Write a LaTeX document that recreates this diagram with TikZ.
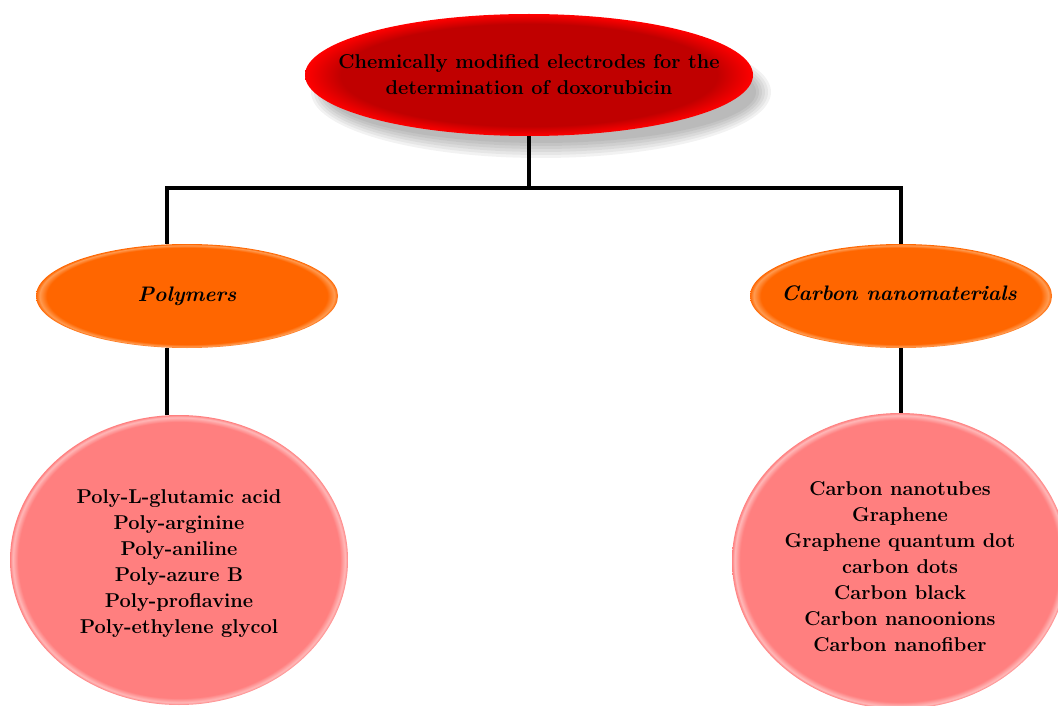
\documentclass[tikz,border=0pt]{standalone}
\usepackage{tikz}
\usetikzlibrary{shapes.geometric, positioning, calc}
\definecolor{CMEdeep}{HTML}{C00000}
\definecolor{CMEred}{HTML}{FF0000}
\definecolor{CMEorange}{HTML}{FF6600}
\definecolor{CMEorangeRim}{HTML}{FF9A50}
\definecolor{CMEpink}{HTML}{FF7F7F}
\definecolor{CMEpinkRim}{HTML}{FFB8B8}
\pgfdeclareradialshading{titleglow}{\pgfpoint{0bp}{0bp}}{color(0bp)=(CMEdeep); color(21bp)=(CMEdeep); color(25bp)=(CMEred); color(50bp)=(CMEred)}
\pgfdeclareradialshading{orangerim}{\pgfpoint{0bp}{0bp}}{color(0bp)=(CMEorange); color(23.2bp)=(CMEorange); color(24.4bp)=(CMEorangeRim); color(25bp)=(CMEorange); color(50bp)=(CMEorange)}
\pgfdeclareradialshading{pinkrim}{\pgfpoint{0bp}{0bp}}{color(0bp)=(CMEpink); color(23.8bp)=(CMEpink); color(24.6bp)=(CMEpinkRim); color(25bp)=(CMEpink); color(50bp)=(CMEpink)}

\tikzset{
  rootnode/.style={ellipse, shading=titleglow, inner sep=0pt,
    minimum width=448pt, minimum height=122pt},
  classnode/.style={ellipse, shading=orangerim, inner sep=0pt,
    minimum width=302pt, minimum height=104pt},
  listnode/.style={ellipse, shading=pinkrim, inner sep=0pt,
    minimum width=338pt, minimum height=290pt},
  boldtext/.style={align=center, inner sep=0pt,
    font=\bfseries\fontsize{20}{26}\selectfont},
  classtext/.style={inner sep=0pt,
    font=\bfseries\itshape\fontsize{21}{24}\selectfont},
  branch/.style={line width=4pt, black}
}

\begin{document}
\begin{tikzpicture}[x=1pt, y=-1pt]
  \useasboundingbox (0,0) rectangle (1058,706);

  % soft shadow of the root
  \foreach \d in {0,3,...,15}
    \fill[black, opacity=0.05] (541,92) ellipse ({230-\d} and {66-\d});

  % root
  \node[rootnode, label={[boldtext]center:Chemically modified electrodes for the\\
    determination of doxorubicin}] (root) at (529,75) {};

  % classes
  \node[classnode, label={[classtext]center:Polymers}] (poly) at (187,296) {};
  \node[classnode, label={[classtext, xshift=-2pt, yshift=3pt]center:Carbon nanomaterials}]
    (carb) at (901,296) {};

  % member lists
  \node[listnode, label={[boldtext, yshift=-4pt]center:Poly-L-glutamic acid\\Poly-arginine\\
    Poly-aniline\\Poly-azure B\\Poly-proflavine\\Poly-ethylene glycol}]
    (polylist) at (179,560) {};
  \node[listnode, minimum width=336pt, minimum height=296pt,
    label={[boldtext, yshift=-6pt]center:Carbon nanotubes\\Graphene\\Graphene quantum dot\\
    carbon dots\\Carbon black\\Carbon nanoonions\\Carbon nanofiber}]
    (carblist) at (900,561) {};

  % tree lines
  \coordinate (hub) at (529,188);
  \coordinate (polyjoin) at (167,188);
  \coordinate (carbjoin) at (901,188);
  \draw[branch] (root.south) -- (hub);
  \draw[branch] (polyjoin |- poly.north) -- (polyjoin) -- (carbjoin)
    -- (carbjoin |- carb.north);
  \draw[branch] (polyjoin |- poly.south) -- (polyjoin |- polylist.north);
  \draw[branch] (carbjoin |- carb.south) -- (carbjoin |- carblist.north);
\end{tikzpicture}
\end{document}
